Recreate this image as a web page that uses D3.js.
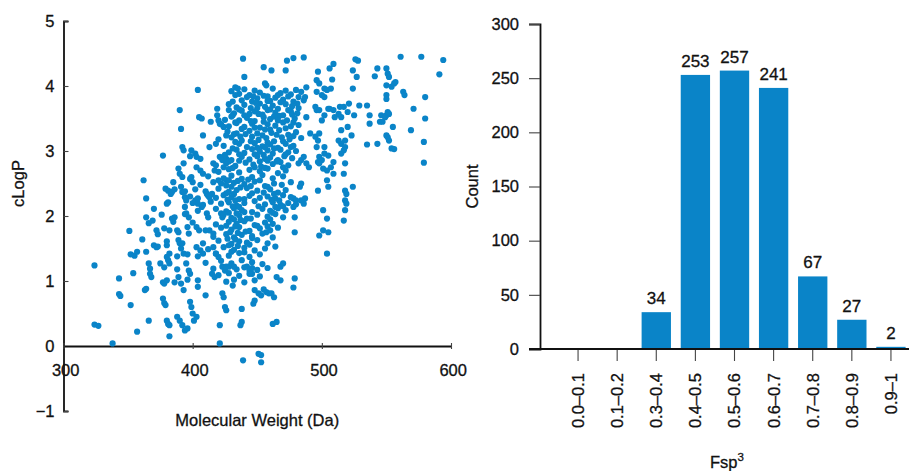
<!DOCTYPE html>
<html>
<head>
<meta charset="utf-8">
<script src="https://cdn.jsdelivr.net/npm/d3@7"></script>
<style>
body { margin: 0; background: #fff; }
svg { font-family: "Liberation Sans", Arial, Helvetica, sans-serif; }
svg text { stroke: #111; stroke-width: 0.3px; }
</style>
</head>
<body>
<svg id="chart" width="909" height="471"></svg>
<script>
// scatter: [molecular weight (Da), cLogP]
var scatterPoints = [
  // sparse outer points
  [324,1.24],[324,0.33],[327,0.31],[338,0.04],[343,1.04],[343,0.8],[344,0.77],[352,0.63],
  [351,1.77],[357,0.22],[352,1.41],[355,1.39],[354,1.12],[357,1.45],[362,2.55],[364,2.27],
  [361,1.64],[364,1.98],[366,1.89],[369,1.93],[366,0.39],[363,0.86],[364,0.88],[364,1.45],
  [366,1.27],[367,1.19],[367,1.11],[368,1.06],[370,2.11],[372,1.78],[373,1.72],[370,1.55],
  [372,1.52],[373,1.53],[377,2.93],[375,1.27],[377,0.98],[378,0.96],[377,0.73],[378,0.66],
  [379,0.63],[380,0.39],[381,0.34],[382,0.32],[382,0.15],[380,1.55],[380,1.37],[381,1.32],
  [382,1.27],[379,2.42],[381,2.39],[383,2.34],[384,2.37],[385,2.52],[380,2.19],[381,2.21],
  [384,1.96],[385,1.91],[388,1.78],[389,1.75],[390,3.63],[391,3.34],[389,2.73],[390,2.65],
  [392,3.06],[393,3.01],[393,2.81],[391,2.45],[392,2.37],[394,2.29],[395,2.24],[389,1.63],
  [390,1.58],[391,1.5],[393,1.42],[389,1.06],[391,0.96],[393,0.86],[388,0.45],[390,0.39],
  [392,0.32],[394,0.24],[396,0.27],[394,2.14],[395,2.04],[397,1.98],[396,1.83],[397,1.73],
  [395,1.27],[397,1.16],[398,1.11],[398,0.68],[399,0.6],[400,0.5],[401,0.39],[403,0.45],
  [399,3.01],[402,2.96],[403,2.91],[399,2.6],[400,2.52],[404,3.94],[405,3.52],[407,3.5],
  [408,3.24],[403,2.75],[406,2.7],[408,2.65],[402,2.24],[404,2.19],[407,2.14],[403,1.83],
  [405,1.78],[403,1.52],[406,1.47],[408,1.42],[404,1.01],[404,0.91],[410,0.78],[411,2.04],
  [411,2.34],[413,2.29],[415,2.34],[413,3.06],[414,3.45],[416,2.81],[417,2.7],[418,3.11],
  [419,3.65],[419,3.55],[416,1.52],[418,1.42],[420,1.37],[413,1.78],[416,1.73],[415,1.11],
  [417,1.06],[421,0.32],[421,0.04],[423,0.81],[424,0.75],[422,2.04],[423,1.98],[420,3.47],
  [421,3.42],[424,3.37],[421,2.91],[423,2.86],[426,2.88],[420,2.55],[422,2.5],[426,2.55],
  [423,1.22],[425,1.16],[428,1.22],[425,0.6],[426,0.55],[428,3.63],[431,3.55],[431,0.93],
  [433,3.98],[435,3.96],[434,3.27],[437,3.22],[438,0.57],[438,0.37],[437,0.32],[439,4.42],
  [440,4.14],[439,-0.22],[453,-0.25],[453,-0.14],[451,-0.12],[442,1.22],[444,1.16],[446,1.11],
  [448,0.86],[451,0.81],[453,0.78],[455,0.87],[457,0.83],[459,0.81],[461,0.81],[463,0.75],
  [462,0.34],[465,0.37],[447,0.65],[448,0.7],[455,4.29],[461,4.24],[456,4.04],[457,4.01],
  [465,1.06],[468,1.01],[468,1.22],[470,1.27],[473,4.39],[478,4.43],[486,4.44],[472,4.24],
  [479,1.04],[478,0.9],[479,1.75],[479,1.98],[478,2.14],[478,2.27],[480,2.24],[484,2.24],
  [486,2.19],[487,2.27],[483,2.45],[484,2.5],[484,2.86],[486,2.91],[488,2.81],[490,2.75],
  [491,3.27],[488,3.52],[486,3.78],[487,3.83],[488,3.98],[497,4.22],[496,4.09],[498,4.04],
  [496,3.91],[500,3.86],[502,3.83],[502,3.96],[504,3.94],[507,3.96],[508,4.1],[506,4.27],
  [509,4.34],[495,3.68],[496,3.63],[498,3.63],[505,3.65],[506,3.65],[509,3.63],[500,3.47],
  [502,3.55],[495,3.22],[497,3.16],[498,3.27],[498,2.91],[502,2.96],[505,2.93],[502,3.06],
  [496,3.06],[497,2.83],[498,2.81],[500,2.86],[501,2.73],[504,2.7],[507,2.75],[509,2.83],
  [504,2.55],[505,2.45],[497,2.39],[501,2.09],[504,1.96],[501,1.78],[505,1.75],[498,1.7],
  [504,1.42],[509,2.65],[510,3.52],[513,3.57],[515,3.52],[514,3.68],[517,3.68],[513,3.16],
  [515,3.11],[518,3.16],[515,3.32],[518,3.06],[517,3.01],[515,2.96],[518,2.81],[517,2.65],
  [518,2.39],[519,2.34],[518,2.24],[519,2.19],[518,2.09],[517,1.93],[524,2.45],[520,3.6],
  [521,3.73],[520,3.37],[523,3.24],[524,3.96],[527,4.14],[524,4.24],[526,4.41],[528,4.39],
  [525,3.55],[529,3.7],[535,3.7],[537,3.55],[537,3.42],[535,3.1],[543,3.11],[545,3.45],
  [546,3.55],[541,4.15],[543,4.27],[550,4.27],[551,4.19],[552,4.14],[550,4.01],[550,3.86],
  [550,3.8],[554,3.99],[556,4.04],[557,4.06],[551,3.6],[552,3.57],[550,3.55],[549,3.52],
  [547,3.45],[550,3.24],[551,3.21],[552,3.16],[555,3.37],[554,3.04],[556,3.03],[561,4.45],
  [563,3.91],[564,3.86],[571,3.65],[569,3.32],[577,4.45],[594,4.4],[591,4.18],[580,3.83],
  [580,3.5],[579,3.14],[579,2.82],
  // dense core
  [430,3.92],[436,3.88],[440,3.95],[444,3.86],[448,3.93],[452,3.9],[458,3.84],[462,3.96],
  [468,3.89],[472,3.93],[476,3.87],[480,3.94],[484,3.91],
  [438,3.78],[442,3.83],[446,3.76],[450,3.81],[455,3.85],[460,3.77],[464,3.82],[470,3.79],
  [474,3.84],[478,3.76],
  [428,3.72],[434,3.67],[440,3.71],[445,3.66],[452,3.73],[456,3.68],[462,3.7],[466,3.65],
  [472,3.72],[477,3.69],[482,3.66],
  [432,3.58],[438,3.62],[444,3.57],[448,3.61],[454,3.56],[458,3.63],[464,3.59],[470,3.55],
  [476,3.61],[481,3.58],
  [425,3.48],[430,3.53],[436,3.47],[442,3.51],[448,3.46],[455,3.52],[460,3.49],[467,3.54],
  [473,3.47],[479,3.5],
  [422,3.41],[428,3.38],[434,3.43],[440,3.37],[446,3.42],[452,3.36],[458,3.41],[464,3.39],
  [470,3.44],[476,3.38],[482,3.4],
  [427,3.3],[432,3.26],[444,3.31],[450,3.27],[456,3.33],[461,3.28],[467,3.32],[474,3.25],
  [480,3.29],
  [420,3.18],[430,3.21],[438,3.16],[446,3.22],[451,3.17],[457,3.2],[463,3.15],[469,3.21],
  [475,3.18],[484,3.2],
  [424,3.08],[436,3.11],[442,3.06],[448,3.12],[454,3.07],[460,3.1],[466,3.05],[472,3.11],
  [478,3.08],
  [428,2.98],[434,3.02],[440,2.97],[446,3.03],[452,2.99],[458,3.01],[462,2.96],[468,3.02],
  [474,2.98],[480,3.0],
  [422,2.9],[430,2.86],[438,2.91],[444,2.87],[450,2.92],[456,2.88],[460,2.9],[466,2.86],
  [471,2.92],[477,2.89],
  [418,2.78],[426,2.81],[433,2.77],[441,2.82],[447,2.79],[453,2.76],[462,2.8],[468,2.83],
  [474,2.78],[482,2.81],
  [420,2.68],[428,2.72],[436,2.67],[444,2.71],[452,2.69],[458,2.73],[466,2.66],[472,2.7],
  [412,2.61],[424,2.58],[430,2.62],[438,2.57],[446,2.6],[454,2.63],[462,2.58],[470,2.61],
  [406,2.48],[416,2.52],[426,2.47],[432,2.51],[440,2.49],[448,2.53],[456,2.46],[463,2.5],
  [469,2.48],[476,2.52],
  [402,2.41],[410,2.38],[420,2.42],[428,2.37],[434,2.4],[442,2.43],[450,2.39],[460,2.41],
  [466,2.36],[472,2.4],
  [398,2.3],[404,2.27],[412,2.31],[418,2.28],[424,2.32],[430,2.29],[436,2.26],[444,2.31],
  [452,2.28],[458,2.3],[464,2.27],[470,2.32],[476,2.29],
  [400,2.2],[408,2.17],[414,2.22],[422,2.19],[428,2.21],[434,2.16],[440,2.2],[448,2.23],
  [456,2.18],[462,2.21],[468,2.17],[474,2.2],[480,2.18],
  [404,2.08],[418,2.11],[426,2.07],[432,2.12],[438,2.09],[446,2.06],[454,2.11],[460,2.08],
  [466,2.12],[472,2.09],
  [412,1.98],[424,2.02],[430,1.97],[436,2.01],[442,1.96],[450,2.02],[458,1.99],[464,2.03],
  [470,1.98],
  [400,1.9],[418,1.87],[428,1.91],[434,1.88],[440,1.92],[448,1.86],[456,1.9],[462,1.88],
  [410,1.78],[422,1.82],[430,1.79],[436,1.83],[444,1.77],[452,1.81],[460,1.78],[466,1.82],
  [416,1.68],[426,1.72],[432,1.67],[438,1.71],[446,1.69],[454,1.73],[462,1.67],
  [408,1.58],[420,1.62],[430,1.57],[436,1.61],[442,1.59],[450,1.63],[458,1.58],
  [412,1.49],[424,1.52],[432,1.48],[440,1.51],[448,1.47],[456,1.5],[464,1.53],
  [404,1.38],[418,1.42],[428,1.39],[436,1.43],[444,1.37],[452,1.41],
  [410,1.28],[422,1.31],[430,1.27],[438,1.32],[446,1.29],[454,1.26],
  [416,1.19],[426,1.22],[434,1.18],[440,1.21],[450,1.17],[458,1.2],
  [420,1.09],[428,1.12],[436,1.08],[444,1.11],[452,1.07],
  [426,0.99],[432,1.02],[440,0.98],[448,1.01],
  // core, in-between rows
  [433,3.86],[447,3.84],[466,3.86],[482,3.83],
  [431,3.76],[449,3.74],[458,3.77],[468,3.75],[481,3.73],
  [436,3.64],[450,3.66],[460,3.64],[474,3.63],
  [440,3.55],[451,3.57],[463,3.53],[477,3.56],
  [433,3.44],[445,3.46],[455,3.45],[466,3.47],[478,3.44],
  [438,3.34],[448,3.36],[460,3.33],[472,3.35],
  [426,3.24],[441,3.26],[454,3.24],[465,3.25],[478,3.23],
  [433,3.14],[445,3.15],[458,3.13],[470,3.15],
  [431,3.04],[450,3.05],[456,3.06],[463,3.04],[476,3.06],
  [425,2.94],[436,2.95],[448,2.95],[455,2.94],[472,2.95],
  [428,2.84],[436,2.85],[452,2.84],[458,2.85],[465,2.84],
  [424,2.75],[431,2.74],[448,2.75],[456,2.74],[470,2.75],
  [428,2.55],[435,2.54],[443,2.56],[452,2.55],
  [430,2.45],[437,2.44],[445,2.46],[458,2.45],
  [426,2.35],[432,2.34],[446,2.35],[455,2.36],[463,2.34],
  [427,2.25],[433,2.24],[440,2.26],[461,2.25],[467,2.24],
  [431,2.15],[436,2.14],[451,2.15],[464,2.14],[470,2.15],
  [428,2.05],[434,2.04],[440,2.06],[462,2.05],
  [432,1.95],[437,1.94],[445,1.96],[460,1.95],
  [426,1.85],[433,1.84],[450,1.85],[458,1.84],
  [429,1.75],[435,1.74],[441,1.76],[457,1.75],
  [427,1.65],[433,1.64],[446,1.66],
  [428,1.55],[435,1.54],[444,1.56],
  [430,1.45],[440,1.44],
  [432,1.22],[446,1.2],
  // left middle
  [398,2.92],[406,2.88],[392,2.6],[398,2.57],[386,2.41],[394,2.38],[376,2.02],[386,1.98],
  [394,2.03],[378,1.81],[382,1.78],[380,1.61],[392,1.58],[382,1.42],[388,1.38],[396,1.41],
  [378,1.21],[388,1.18],[380,1.01],[386,0.98],[396,1.02]
];
var mwTicks = [300, 400, 500, 600];
var clogpTicks = [-1, 0, 1, 2, 3, 4, 5];

// histogram of Fsp3
var fspBins = ["0.0–0.1", "0.1–0.2", "0.3–0.4", "0.4–0.5", "0.5–0.6",
               "0.6–0.7", "0.7–0.8", "0.8–0.9", "0.9–1"];
var fspCounts = [0, 0, 34, 253, 257, 241, 67, 27, 2];
var countTicks = [0, 50, 100, 150, 200, 250, 300];

var blue = '#0a84c8';
var svg = d3.select('#chart');

function styleAxis(g, size) {
    g.attr('font-size', size).attr('font-family', null).style('color', '#111');
    g.select('.domain').attr('stroke', '#111').attr('stroke-width', 1.8);
    g.selectAll('.tick line').attr('stroke', '#444').attr('stroke-width', 1.1);
}

// ---- left: scatter ----
var x = d3.scaleLinear().domain([300, 600]).range([63.5, 451]);
var y = d3.scaleLinear().domain([-1, 5]).range([411, 21]);

var gy = svg.append('g')
	.attr('transform', 'translate(' + x(300) + ',0)')
	.call(d3.axisLeft(y).tickValues(clogpTicks).tickFormat(d3.format('d'))
	    .tickSizeInner(-5).tickSizeOuter(-5).tickPadding(9));
styleAxis(gy, 16.5);

var gx = svg.append('g')
	.attr('transform', 'translate(0,' + y(0) + ')')
	.call(d3.axisBottom(x).tickValues(mwTicks).tickFormat(d3.format('d'))
	    .tickSizeInner(3).tickSizeOuter(0).tickPadding(15));
styleAxis(gx, 16.5);
gx.selectAll('.tick line').attr('y1', -3);
gx.selectAll('.tick text').attr('dx', '0.1em');

svg.append('g')
	.selectAll('circle')
	.data(scatterPoints)
	.enter().append('circle')
	.attr('cx', function (d) { return x(d[0]); })
	.attr('cy', function (d) { return y(d[1]); })
	.attr('r', 3.1)
	.attr('fill', blue);

svg.append('text')
	.attr('transform', 'translate(24,' + y(2.5) + ') rotate(-90)')
	.attr('text-anchor', 'middle')
	.attr('font-size', 16.5)
	.attr('fill', '#111')
	.text('cLogP');

svg.append('text')
	.attr('x', x(450))
	.attr('y', 426)
	.attr('text-anchor', 'middle')
	.attr('font-size', 16.5)
	.attr('fill', '#111')
	.text('Molecular Weight (Da)');

// ---- right: bars ----
var xb = d3.scaleBand().domain(fspBins).range([558.5, 910.5])
	.paddingInner(0.25).paddingOuter(0.125);
var yb = d3.scaleLinear().domain([0, 300]).range([349, 24]);
var axisX0 = 540;

svg.append('g')
	.selectAll('rect')
	.data(fspCounts)
	.enter().append('rect')
	.attr('x', function (d, i) { return xb(fspBins[i]); })
	.attr('y', function (d) { return yb(d); })
	.attr('width', xb.bandwidth())
	.attr('height', function (d) { return yb(0) - yb(d); })
	.attr('fill', blue);

var gby = svg.append('g')
	.attr('transform', 'translate(' + axisX0 + ',0)')
	.call(d3.axisLeft(yb).tickValues(countTicks)
	    .tickSizeInner(11).tickSizeOuter(11).tickPadding(10));
styleAxis(gby, 16.5);

var gbx = svg.append('g')
	.attr('transform', 'translate(0,' + yb(0) + ')')
	.call(d3.axisBottom(xb).tickSizeInner(12).tickSizeOuter(0).tickPadding(0));
styleAxis(gbx, 16.5);
gbx.select('.domain').remove();
gbx.selectAll('.tick text')
	.attr('transform', 'rotate(-90)')
	.attr('text-anchor', 'end')
	.attr('x', -24)
	.attr('y', 0)
	.attr('dy', '0.36em');
gbx.append('line')
	.attr('x1', axisX0 - 11).attr('x2', 909)
	.attr('stroke', '#111').attr('stroke-width', 1.8);

svg.append('g')
	.selectAll('text')
	.data(fspBins.filter(function (b, i) { return fspCounts[i] > 0; }))
	.enter().append('text')
	.attr('x', function (b) { return xb(b) + xb.bandwidth() / 2; })
	.attr('y', function (b) { return yb(fspCounts[fspBins.indexOf(b)]) - 8; })
	.attr('text-anchor', 'middle')
	.attr('font-size', 17)
	.attr('fill', '#111')
	.text(function (b) { return fspCounts[fspBins.indexOf(b)]; });

svg.append('text')
	.attr('transform', 'translate(478,' + yb(150) + ') rotate(-90)')
	.attr('text-anchor', 'middle')
	.attr('font-size', 16.5)
	.attr('fill', '#111')
	.text('Count');

var fsp = svg.append('text')
	.attr('x', 727)
	.attr('y', 468)
	.attr('text-anchor', 'middle')
	.attr('font-size', 16.5)
	.attr('fill', '#111');
fsp.append('tspan').text('Fsp');
fsp.append('tspan').attr('dy', -7).attr('font-size', 11.5).text('3');
</script>
</body>
</html>
